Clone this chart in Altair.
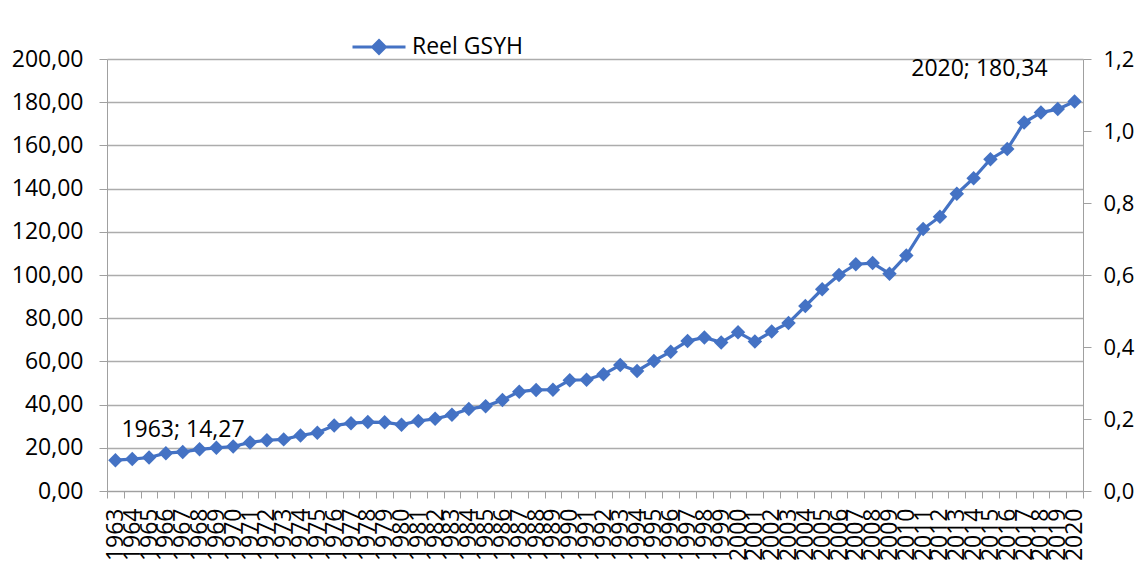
import altair as alt
import pandas as pd

# ---- data ----
years = list(range(1963, 2021))
values = [
    14.27, 14.8, 15.5, 17.5, 18.1, 19.3, 20.0, 20.6, 22.5, 23.5,
    23.9, 25.7, 27.0, 30.3, 31.4, 31.9, 31.8, 30.7, 32.4, 33.4,
    35.3, 38.0, 39.2, 42.1, 46.0, 46.8, 46.9, 51.3, 51.5, 54.0,
    58.3, 55.6, 60.2, 64.5, 69.4, 71.1, 68.8, 73.5, 69.2, 73.8,
    77.8, 85.6, 93.4, 100.0, 105.0, 105.5, 100.6, 109.0, 121.3, 127.0,
    137.6, 144.8, 153.6, 158.3, 170.6, 175.2, 176.8, 180.34,
]
series_name = "Reel GSYH"
left_ticks = [0, 20, 40, 60, 80, 100, 120, 140, 160, 180, 200]
right_ticks = [0.0, 0.2, 0.4, 0.6, 0.8, 1.0, 1.2]
ann_first = {"year": 1963, "value": 14.27}
ann_last = {"year": 2020, "value": 180.34}

BLUE = "#4472C4"
GRID = "#acacac"
AXIS = "#a0a0a0"
FONT = "Open Sans"
FS = 23

def lab(y, v):
    return f"{y}; {v:.2f}".replace(".", ",")

df = pd.DataFrame({"year": years, "value": values, "series": series_name})
df_first = pd.DataFrame([{**ann_first, "label": lab(ann_first["year"], ann_first["value"])}])
df_last = pd.DataFrame([{**ann_last, "label": lab(ann_last["year"], ann_last["value"])}])
df_right = pd.DataFrame({"r": right_ticks})

x_enc = alt.X(
    "year:O",
    scale=alt.Scale(paddingInner=0, paddingOuter=0),
    title=None,
    axis=alt.Axis(
        labelAngle=270, labelOverlap=False, labelBound=False, labelFontSize=FS,
        labelFont=FONT, labelColor="black", tickBand="extent", tickSize=7,
        tickColor=AXIS, domainColor=AXIS, labelPadding=10, grid=False,
    ),
)
y_scale = alt.Scale(domain=[0, 200], nice=False, zero=True)
y_enc = alt.Y(
    "value:Q",
    scale=y_scale,
    title=None,
    axis=alt.Axis(
        values=left_ticks,
        labelExpr="replace(format(datum.value, '.2f'), '.', ',')",
        labelFontSize=FS, labelFont=FONT, labelColor="black",
        tickSize=8, tickColor=AXIS, domainColor=AXIS, labelPadding=16,
        grid=True, gridColor=GRID, gridWidth=1.3,
    ),
)
color_enc = alt.Color(
    "series:N",
    scale=alt.Scale(domain=[series_name], range=[BLUE]),
    legend=alt.Legend(
        title=None, orient="none", legendX=244, legendY=-40,
        symbolType="M-1,0H1M0,-0.24L0.24,0L0,0.24L-0.24,0Z",
        symbolSize=2809, symbolStrokeWidth=3, symbolFillColor=BLUE,
        symbolStrokeColor=BLUE, symbolOpacity=1, labelFontSize=FS,
        labelFont=FONT, labelColor="black", labelOffset=5, padding=0,
    ),
)

base = alt.Chart(df)
line = base.mark_line(strokeWidth=3.2).encode(x=x_enc, y=y_enc, color=color_enc)
points = base.mark_point(shape="diamond", filled=True, size=210, opacity=1).encode(
    x="year:O", y=alt.Y("value:Q", scale=y_scale), color=alt.Color("series:N")
)
t_first = alt.Chart(df_first).mark_text(
    align="left", baseline="middle", dx=6, dy=-30, fontSize=FS, font=FONT, color="black"
).encode(x="year:O", y=alt.Y("value:Q", scale=y_scale), text="label:N")
t_last = alt.Chart(df_last).mark_text(
    align="right", baseline="middle", dx=-27, dy=-32, fontSize=FS, font=FONT, color="black"
).encode(x="year:O", y=alt.Y("value:Q", scale=y_scale), text="label:N")

left = alt.layer(line, points, t_first, t_last)

right = alt.Chart(df_right).mark_rule(opacity=0).encode(
    y=alt.Y(
        "r:Q",
        scale=alt.Scale(domain=[0, 1.2], nice=False),
        title=None,
        axis=alt.Axis(
            orient="right", values=right_ticks,
            labelExpr="replace(format(datum.value, '.1f'), '.', ',')",
            labelFontSize=22, labelFont=FONT, labelColor="black",
            tickSize=8, tickColor=AXIS, domainColor=AXIS, labelPadding=12, grid=False,
        ),
    )
)

chart = (
    alt.layer(left, right)
    .resolve_scale(y="independent")
    .properties(
        width=976, height=432,
        autosize=alt.AutoSizeParams(type="none"),
        padding={"left": 99, "top": 51, "right": 55, "bottom": 78},
        background="white",
    )
    .configure_view(stroke=None)
)

chart.save("out.html", embed_options={"renderer": "svg", "actions": False})
